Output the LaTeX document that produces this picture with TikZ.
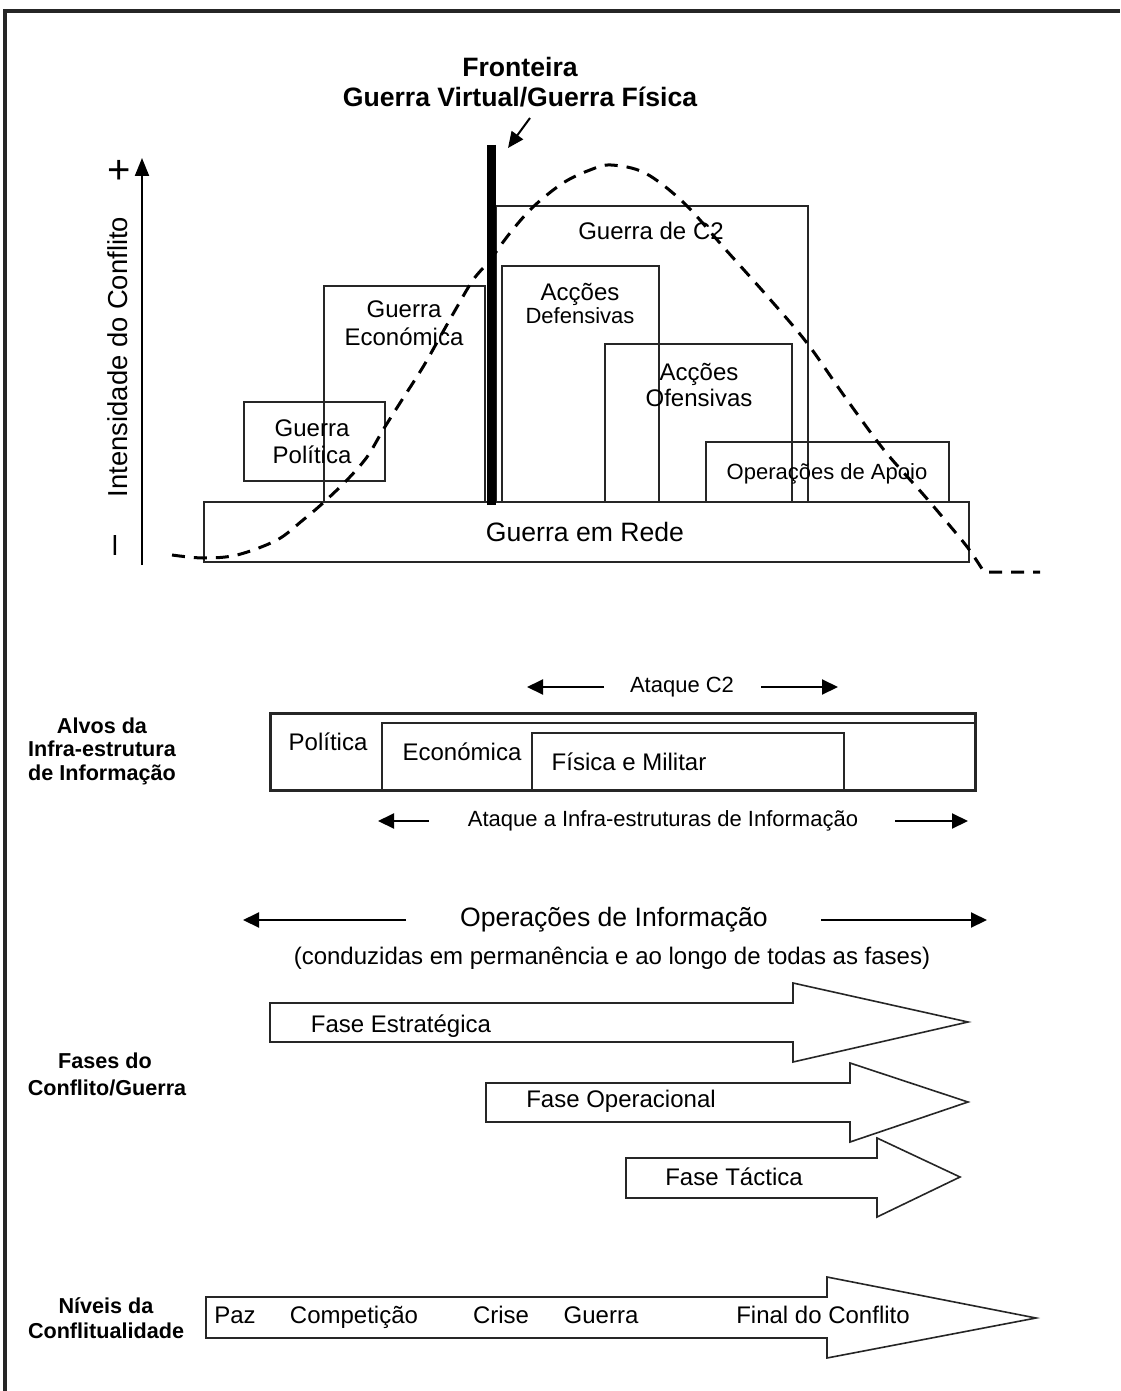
\documentclass[tikz,border=0pt]{standalone}
\usepackage{fontspec}
\setmainfont{Liberation Sans}
\usetikzlibrary{arrows.meta}
\tikzset{%
        txt/.style = {inner sep=0pt, anchor=base, font=\fontsize{12}{14}\selectfont},
        txtp/.style = {inner sep=0pt, anchor=base, font=\fontsize{11}{13}\selectfont},
        txtg/.style = {inner sep=0pt, anchor=base, font=\fontsize{13.3}{16}\selectfont},
        titulo/.style = {inner sep=0pt, anchor=base, font=\bfseries\fontsize{13.3}{16}\selectfont},
        lado/.style = {inner sep=0pt, anchor=base, font=\bfseries\fontsize{10.8}{13}\selectfont},
        caixa/.style = {draw=black!85, line width=0.75pt},
        bloco/.style = {draw=black!85, line width=0.8pt, fill=white},
        seta/.style = {-{Triangle[length=8pt,width=7.5pt]}, line width=1pt},
        curva/.style = {line width=1.5pt, dash pattern=on 6.5pt off 4.5pt}
}

\begin{document}
\begin{tikzpicture}[x=0.5pt, y=-0.5pt]
    \useasboundingbox (0,0) rectangle (1120,1391);
    \draw[line width=2pt, black!85] (5,1391) -- (5,11) -- (1120,11);

    \node[titulo] (fronteira) at (520,77) {Fronteira};
    \node[titulo] (virtfis) at (520,107) {Guerra Virtual/Guerra Física};
    \coordinate (apontaA) at (530,118);
    \coordinate (apontaB) at (508,148);
    \draw[-{Triangle[length=8pt,width=7pt]}, line width=1pt] (apontaA) -- (apontaB);

    \coordinate (eixoB) at (142,565);
    \coordinate (eixoT) at (142,158);
    \draw[-{Triangle[length=9pt,width=7pt]}, line width=1pt] (eixoB) -- (eixoT);
    \node[inner sep=0pt, font=\fontsize{20}{20}\selectfont] (mais) at (119,172) {+};
    \node[inner sep=0pt, rotate=90, font=\fontsize{18}{18}\selectfont] (menos) at (119,545) {–};
    \node[inner sep=0pt, rotate=90, font=\fontsize{13.7}{16}\selectfont] (intens) at (118,357) {Intensidade do Conflito};

    \draw[caixa] (204,502) rectangle (969,562);
    \draw[caixa] (244,402) rectangle (385,481);
    \draw[caixa] (324,286) rectangle (485,502);
    \draw[caixa] (496,206) rectangle (808,502);
    \draw[caixa] (502,266) rectangle (659,502);
    \draw[caixa] (605,344) rectangle (792,502);
    \draw[caixa] (706,442) rectangle (949,502);

    \node[txtg] (rede) at (585,541) {Guerra em Rede};
    \node[txt] (polA) at (312,436) {Guerra};
    \node[txt] (polB) at (312,463) {Política};
    \node[txt] (ecoA) at (404,317) {Guerra};
    \node[txt] (ecoB) at (404,345) {Económica};
    \node[txt] (cdois) at (651,240) {Guerra de C2};
    \node[txt] (defA) at (580,300) {Acções};
    \node[txtp] (defB) at (580,323) {Defensivas};
    \node[txt] (ofA) at (699,380) {Acções};
    \node[txt] (ofB) at (699,406) {Ofensivas};
    \node[txtp] (apoio) at (827,479) {Operações de Apoio};

    \draw[curva] plot[smooth, tension=0.55] coordinates {
        (172,555) (203,558) (237,555) (277,540) (303,520) (323,503) (347,480)
        (367,457) (383,430) (400,403) (423,367) (440,337) (457,307) (473,280)
        (490,260) (510,233) (533,207) (563,183) (590,170) (611,165) (645,173)
        (684,203) (726,250) (768,297) (807,343) (845,397) (884,450) (922,493)
        (945,520) (968,548) (984,572)} -- (1040,572);
    \draw[line width=4.5pt] (491,145) -- (491,505);

    \node[lado] (alvosA) at (102,733) {Alvos da};
    \node[lado] (alvosB) at (102,756) {Infra-estrutura};
    \node[lado] (alvosC) at (102,780) {de Informação};

    \node[txtp] (atqC2) at (682,692) {Ataque C2};
    \coordinate (c2e1) at (604,687);
    \coordinate (c2e2) at (527,687);
    \coordinate (c2d1) at (761,687);
    \coordinate (c2d2) at (838,687);
    \draw[seta] (c2e1) -- (c2e2);
    \draw[seta] (c2d1) -- (c2d2);

    \draw[draw=black!85, line width=1.5pt] (270,713) rectangle (975,790);
    \draw[draw=black!85, line width=1.3pt] (382,790) -- (382,723) -- (975,723);
    \draw[draw=black!85, line width=1pt] (532,790) -- (532,733) -- (844,733) -- (844,790);
    \node[txt] (politica) at (328,750) {Política};
    \node[txt] (economica) at (462,760) {Económica};
    \node[txt] (fisica) at (629,770) {Física e Militar};

    \node[txtp] (atqInf) at (663,826) {Ataque a Infra-estruturas de Informação};
    \coordinate (infe1) at (429,821);
    \coordinate (infe2) at (378,821);
    \coordinate (infd1) at (895,821);
    \coordinate (infd2) at (968,821);
    \draw[seta] (infe1) -- (infe2);
    \draw[seta] (infd1) -- (infd2);

    \node[txtg] (opinf) at (614,926) {Operações de Informação};
    \coordinate (opie1) at (406,920);
    \coordinate (opie2) at (243,920);
    \coordinate (opid1) at (821,920);
    \coordinate (opid2) at (987,920);
    \draw[seta] (opie1) -- (opie2);
    \draw[seta] (opid1) -- (opid2);
    \node[txt] (conduz) at (612,964) {(conduzidas em permanência e ao longo de todas as fases)};

    \draw[bloco] (270,1003) -- (793,1003) -- (793,983) -- (968,1022) -- (793,1062) -- (793,1042) -- (270,1042) -- cycle;
    \draw[bloco] (486,1083) -- (850,1083) -- (850,1063) -- (968,1102) -- (850,1142) -- (850,1122) -- (486,1122) -- cycle;
    \draw[bloco] (626,1158) -- (877,1158) -- (877,1138) -- (960,1177) -- (877,1217) -- (877,1198) -- (626,1198) -- cycle;
    \node[txt] (estrat) at (401,1032) {Fase Estratégica};
    \node[txt] (operac) at (621,1107) {Fase Operacional};
    \node[txt] (tactic) at (734,1185) {Fase Táctica};
    \node[lado] (fasesA) at (105,1068) {Fases do};
    \node[lado] (fasesB) at (107,1095) {Conflito/Guerra};

    \draw[bloco] (206,1297) -- (827,1297) -- (827,1277) -- (1036,1318) -- (827,1358) -- (827,1338) -- (206,1338) -- cycle;
    \node[lado] (niveisA) at (106,1313) {Níveis da};
    \node[lado] (niveisB) at (106,1338) {Conflitualidade};
    \node[txt] (paz) at (235,1323) {Paz};
    \node[txt] (compet) at (354,1323) {Competição};
    \node[txt] (crise) at (501,1323) {Crise};
    \node[txt] (guerra) at (601,1323) {Guerra};
    \node[txt] (final) at (823,1323) {Final do Conflito};
\end{tikzpicture}
\end{document}
